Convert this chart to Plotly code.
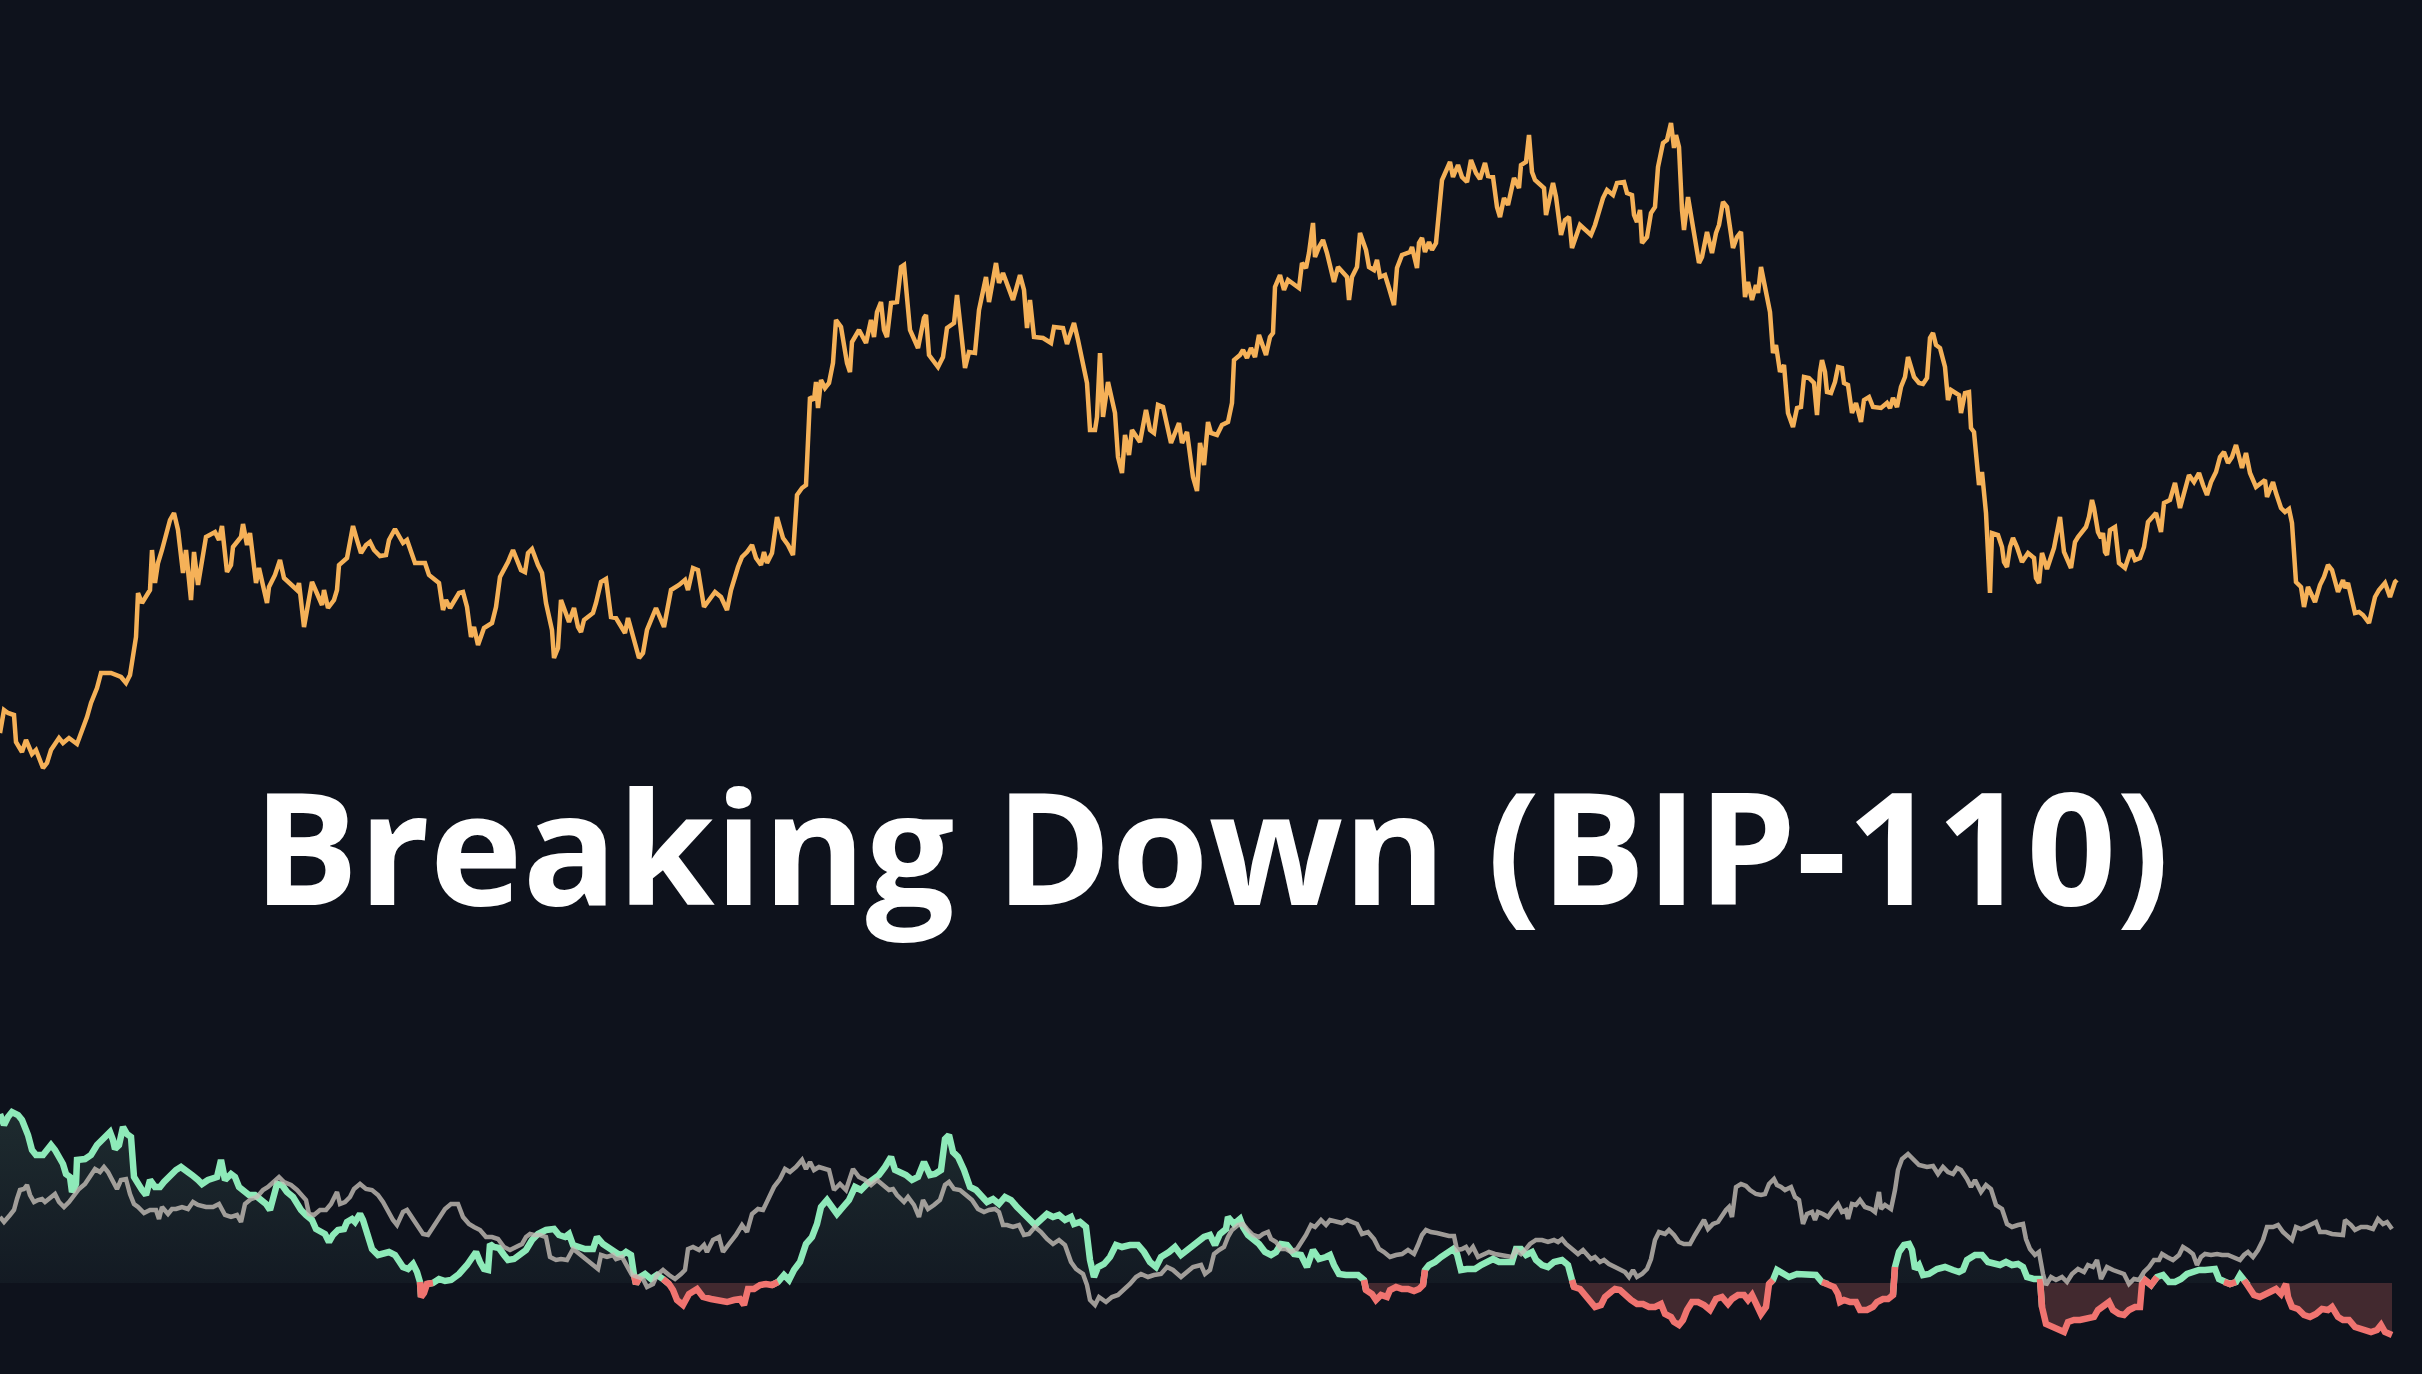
import plotly.graph_objects as go

# price line, (day, price index)
price_pts = [
    (0, 267), (4, 290), (8, 287), (14, 285), (16, 258), (22, 248), (26, 260), (32, 246), (36, 250), (43, 232),
    (47, 237), (51, 250), (59, 262), (63, 257), (69, 262), (77, 256), (87, 283), (91, 297), (97, 312), (101, 327),
    (111, 327), (121, 323), (126, 317), (130, 325), (136, 363), (138, 407), (142, 397), (150, 410), (152, 450), (155, 417),
    (158, 437), (162, 450), (170, 480), (174, 487), (178, 470), (183, 427), (186, 450), (191, 400), (194, 448), (198, 415),
    (206, 463), (215, 468), (219, 460), (222, 474), (227, 428), (231, 435), (233, 453), (241, 463), (243, 476), (247, 455),
    (250, 467), (256, 417), (259, 432), (263, 415), (267, 397), (269, 413), (275, 425), (280, 440), (284, 422), (297, 410),
    (299, 417), (304, 373), (308, 393), (312, 418), (322, 395), (324, 410), (328, 392), (334, 400), (337, 410), (339, 435),
    (347, 442), (353, 474), (357, 460), (361, 447), (366, 455), (370, 458), (374, 450), (380, 444), (386, 445), (389, 460),
    (395, 471), (399, 465), (403, 457), (407, 460), (411, 450), (415, 437), (425, 437), (429, 425), (439, 417), (443, 390),
    (446, 400), (450, 392), (459, 407), (463, 408), (467, 393), (471, 363), (474, 373), (478, 355), (484, 372), (492, 377),
    (496, 393), (500, 423), (508, 438), (513, 450), (521, 430), (525, 428), (528, 447), (532, 451), (538, 435), (542, 427),
    (546, 397), (552, 370), (554, 342), (558, 352), (561, 400), (569, 378), (574, 392), (578, 373), (581, 368), (584, 380),
    (593, 387), (596, 397), (601, 418), (606, 421), (611, 383), (616, 382), (625, 367), (628, 382), (639, 342), (643, 347),
    (647, 370), (656, 392), (664, 373), (671, 410), (679, 415), (685, 420), (688, 410), (693, 432), (698, 430), (704, 393),
    (715, 408), (721, 403), (727, 390), (731, 410), (738, 433), (742, 443), (747, 448), (752, 455), (756, 442), (761, 435),
    (764, 448), (767, 437), (772, 447), (777, 483), (783, 462), (788, 455), (793, 445), (797, 505), (802, 512), (806, 515),
    (810, 603), (814, 600), (816, 618), (818, 592), (821, 620), (825, 612), (829, 617), (833, 637), (836, 680), (841, 673),
    (847, 637), (850, 628), (852, 658), (859, 670), (866, 657), (871, 680), (874, 663), (877, 688), (881, 698), (884, 670),
    (887, 663), (891, 697), (897, 698), (901, 733), (904, 735), (908, 690), (910, 670), (918, 652), (924, 682), (926, 685),
    (929, 645), (938, 633), (943, 643), (947, 672), (954, 677), (957, 705), (961, 667), (965, 632), (969, 648), (975, 647),
    (979, 690), (986, 723), (989, 698), (996, 737), (999, 717), (1003, 727), (1013, 700), (1020, 725), (1024, 710), (1027, 672),
    (1030, 700), (1034, 663), (1043, 662), (1051, 657), (1054, 673), (1063, 672), (1067, 656), (1074, 677), (1078, 660), (1087, 617),
    (1090, 570), (1095, 570), (1097, 583), (1100, 647), (1103, 583), (1108, 618), (1115, 587), (1118, 543), (1122, 527), (1125, 565),
    (1129, 545), (1132, 570), (1140, 558), (1146, 590), (1150, 570), (1154, 567), (1158, 595), (1163, 593), (1171, 557), (1179, 577),
    (1182, 557), (1187, 568), (1193, 523), (1197, 509), (1200, 557), (1204, 535), (1208, 578), (1211, 567), (1217, 565), (1222, 575),
    (1228, 578), (1232, 597), (1234, 640), (1240, 645), (1243, 650), (1247, 642), (1251, 652), (1255, 643), (1259, 665), (1266, 645),
    (1270, 663), (1273, 667), (1275, 713), (1280, 725), (1284, 710), (1288, 720), (1299, 712), (1302, 737), (1306, 732), (1309, 747),
    (1313, 777), (1315, 743), (1319, 753), (1323, 760), (1327, 747), (1334, 718), (1338, 733), (1347, 723), (1349, 700), (1352, 723),
    (1357, 733), (1360, 767), (1366, 750), (1369, 733), (1374, 730), (1377, 740), (1380, 723), (1385, 725), (1389, 712), (1394, 695),
    (1397, 732), (1402, 745), (1410, 748), (1412, 753), (1417, 732), (1419, 757), (1422, 762), (1425, 748), (1429, 758), (1432, 750),
    (1436, 757), (1439, 790), (1442, 820), (1450, 838), (1453, 823), (1458, 835), (1462, 823), (1467, 818), (1471, 840), (1476, 827),
    (1480, 821), (1485, 837), (1488, 824), (1493, 823), (1497, 793), (1500, 783), (1504, 802), (1508, 795), (1514, 822), (1519, 812),
    (1521, 835), (1526, 838), (1529, 865), (1532, 828), (1535, 820), (1544, 812), (1546, 785), (1553, 817), (1556, 803), (1561, 765),
    (1565, 780), (1569, 783), (1572, 752), (1580, 775), (1591, 765), (1595, 775), (1603, 802), (1607, 810), (1613, 805), (1617, 817),
    (1624, 818), (1627, 807), (1632, 805), (1634, 785), (1637, 778), (1640, 790), (1642, 757), (1647, 763), (1651, 787), (1655, 793),
    (1658, 833), (1663, 857), (1667, 860), (1671, 877), (1674, 852), (1676, 865), (1679, 853), (1682, 790), (1684, 770), (1688, 803),
    (1699, 737), (1702, 743), (1707, 768), (1712, 747), (1716, 767), (1719, 775), (1723, 798), (1727, 793), (1730, 770), (1733, 752),
    (1737, 763), (1741, 768), (1745, 703), (1748, 718), (1752, 700), (1756, 715), (1758, 707), (1761, 733), (1765, 713), (1770, 688),
    (1773, 647), (1776, 655), (1780, 628), (1784, 635), (1788, 587), (1793, 573), (1797, 592), (1801, 593), (1804, 623), (1809, 622),
    (1814, 617), (1817, 585), (1820, 628), (1822, 640), (1825, 628), (1827, 608), (1831, 607), (1835, 618), (1838, 633), (1842, 632),
    (1844, 617), (1848, 615), (1852, 587), (1856, 597), (1861, 578), (1864, 600), (1869, 603), (1873, 593), (1881, 592), (1887, 597),
    (1890, 592), (1893, 602), (1897, 593), (1901, 613), (1905, 623), (1908, 643), (1914, 623), (1919, 617), (1923, 616), (1927, 622),
    (1930, 662), (1933, 667), (1936, 655), (1940, 652), (1945, 633), (1948, 600), (1951, 610), (1959, 605), (1961, 587), (1965, 607),
    (1969, 608), (1971, 572), (1974, 568), (1977, 527), (1979, 515), (1982, 528), (1983, 515), (1986, 487), (1990, 407), (1992, 467),
    (1998, 465), (2002, 453), (2004, 438), (2007, 433), (2010, 453), (2013, 462), (2017, 453), (2022, 438), (2028, 447), (2034, 442),
    (2036, 422), (2039, 417), (2042, 447), (2047, 431), (2050, 440), (2054, 452), (2060, 483), (2064, 448), (2071, 432), (2075, 458),
    (2078, 463), (2082, 468), (2086, 473), (2089, 483), (2092, 500), (2094, 492), (2098, 468), (2101, 462), (2103, 467), (2105, 448),
    (2107, 445), (2110, 470), (2115, 473), (2119, 437), (2125, 432), (2131, 450), (2135, 440), (2140, 442), (2144, 453), (2148, 478),
    (2156, 487), (2161, 468), (2164, 497), (2170, 500), (2175, 517), (2180, 492), (2184, 508), (2189, 525), (2194, 518), (2199, 527),
    (2203, 515), (2207, 505), (2211, 518), (2216, 528), (2220, 543), (2224, 548), (2228, 537), (2232, 543), (2236, 555), (2238, 548),
    (2242, 532), (2246, 547), (2250, 527), (2256, 513), (2265, 520), (2267, 503), (2273, 518), (2276, 507), (2281, 492), (2285, 488),
    (2289, 491), (2292, 477), (2296, 418), (2301, 413), (2304, 393), (2308, 413), (2315, 398), (2320, 415), (2324, 423), (2328, 435),
    (2332, 430), (2338, 408), (2343, 420), (2345, 412), (2348, 417), (2355, 387), (2359, 388), (2363, 385), (2369, 377), (2375, 403),
    (2379, 410), (2385, 417), (2390, 403), (2395, 418), (2397, 420),
]

# oscillator (green above zero, red below)
osc_pts = [
    (0, 169), (4, 158), (8, 166), (12, 171), (18, 168), (22, 163), (26, 153), (28, 148), (32, 133), (36, 128),
    (43, 128), (47, 134), (51, 138), (55, 133), (59, 126), (63, 119), (66, 109), (70, 106), (72, 91), (76, 99),
    (77, 123), (85, 124), (91, 128), (97, 138), (102, 143), (107, 149), (110, 151), (113, 143), (115, 134), (119, 138),
    (123, 156), (127, 149), (131, 146), (134, 106), (138, 98), (142, 93), (146, 88), (150, 103), (155, 96), (160, 96),
    (164, 101), (170, 108), (176, 113), (181, 116), (186, 113), (192, 108), (198, 103), (202, 99), (208, 103), (217, 106),
    (221, 123), (225, 103), (231, 109), (235, 106), (239, 96), (245, 91), (249, 88), (255, 88), (261, 84), (266, 79),
    (270, 73), (273, 86), (277, 99), (282, 98), (287, 91), (293, 86), (297, 79), (301, 73), (306, 68), (312, 63),
    (316, 54), (320, 51), (325, 49), (329, 41), (333, 48), (338, 53), (344, 54), (347, 61), (352, 64), (355, 61),
    (360, 69), (363, 63), (367, 49), (372, 34), (378, 28), (384, 29), (389, 31), (395, 28), (399, 21), (403, 16),
    (408, 14), (413, 19), (417, 11), (420, 1), (421, -14), (424, -10), (427, -1), (433, 0), (439, 4), (445, 2),
    (451, 3), (459, 9), (467, 18), (473, 26), (476, 31), (480, 21), (484, 14), (488, 13), (490, 39), (494, 36),
    (499, 35), (504, 28), (508, 23), (514, 24), (520, 29), (526, 33), (532, 43), (538, 49), (546, 53), (554, 54),
    (559, 48), (565, 46), (569, 49), (573, 38), (579, 36), (585, 34), (593, 34), (597, 46), (603, 39), (609, 34),
    (615, 31), (618, 29), (622, 28), (626, 31), (631, 28), (634, 8), (636, -1), (640, 6), (645, 9), (651, 4),
    (657, 8), (663, 4), (669, -1), (673, -7), (677, -17), (683, -22), (689, -11), (697, -6), (703, -14), (711, -16),
    (719, -17), (727, -19), (734, -17), (740, -16), (744, -22), (748, -6), (754, -6), (760, -2), (766, -1), (772, -2),
    (778, 1), (784, 8), (789, 3), (794, 13), (800, 21), (806, 39), (812, 46), (817, 59), (821, 76), (827, 83),
    (833, 74), (837, 69), (843, 76), (849, 83), (855, 96), (861, 93), (867, 99), (873, 103), (879, 108), (885, 116),
    (891, 126), (895, 113), (901, 111), (906, 108), (912, 103), (918, 106), (924, 121), (930, 108), (935, 109), (941, 113),
    (945, 144), (949, 148), (953, 131), (958, 126), (964, 113), (970, 96), (976, 93), (982, 86), (987, 81), (993, 84),
    (999, 79), (1005, 86), (1011, 83), (1017, 76), (1023, 71), (1029, 64), (1035, 58), (1041, 64), (1047, 69), (1053, 66),
    (1059, 68), (1065, 63), (1071, 66), (1074, 59), (1080, 61), (1086, 56), (1090, 23), (1094, 6), (1098, 16), (1104, 19),
    (1110, 26), (1116, 38), (1122, 36), (1130, 38), (1138, 38), (1144, 31), (1150, 21), (1156, 16), (1161, 26), (1169, 31),
    (1175, 36), (1181, 28), (1189, 34), (1197, 41), (1200, 43), (1204, 46), (1210, 48), (1215, 38), (1220, 49), (1226, 54),
    (1228, 66), (1234, 59), (1240, 64), (1243, 56), (1248, 48), (1253, 44), (1259, 39), (1265, 31), (1271, 28), (1276, 31),
    (1281, 39), (1287, 38), (1294, 29), (1301, 28), (1307, 16), (1313, 33), (1319, 24), (1326, 26), (1330, 28), (1334, 18),
    (1339, 9), (1346, 8), (1352, 8), (1358, 8), (1364, 3), (1366, -7), (1372, -11), (1376, -17), (1381, -12), (1387, -14),
    (1390, -7), (1396, -4), (1402, -6), (1408, -6), (1414, -8), (1419, -6), (1423, -2), (1425, 13), (1429, 18), (1435, 21),
    (1441, 26), (1447, 31), (1453, 34), (1457, 29), (1461, 13), (1467, 14), (1475, 14), (1481, 18), (1487, 21), (1493, 24),
    (1499, 21), (1504, 21), (1512, 21), (1516, 34), (1521, 34), (1526, 28), (1532, 31), (1536, 23), (1542, 18), (1548, 16),
    (1554, 21), (1562, 23), (1568, 18), (1572, 3), (1574, -4), (1580, -6), (1584, -11), (1589, -17), (1595, -24), (1601, -22),
    (1605, -14), (1611, -9), (1615, -6), (1620, -7), (1625, -12), (1631, -17), (1637, -21), (1643, -21), (1649, -24), (1655, -24),
    (1661, -21), (1665, -31), (1671, -34), (1674, -39), (1679, -42), (1683, -37), (1687, -27), (1692, -19), (1698, -19), (1704, -22),
    (1710, -27), (1716, -16), (1722, -14), (1728, -21), (1732, -16), (1738, -12), (1744, -12), (1748, -17), (1752, -12), (1756, -21),
    (1761, -31), (1766, -24), (1769, -1), (1773, 3), (1777, 13), (1783, 9), (1789, 6), (1797, 9), (1800, 9), (1808, 9),
    (1816, 8), (1822, 1), (1828, -1), (1834, -4), (1838, -11), (1840, -19), (1844, -17), (1850, -19), (1856, -19), (1860, -27),
    (1867, -27), (1873, -24), (1877, -19), (1883, -16), (1888, -16), (1893, -12), (1895, 16), (1899, 31), (1904, 38), (1909, 39),
    (1912, 33), (1915, 14), (1919, 18), (1923, 8), (1929, 9), (1937, 14), (1945, 16), (1953, 13), (1959, 11), (1963, 13),
    (1967, 23), (1975, 28), (1982, 28), (1988, 21), (1994, 19), (2000, 18), (2006, 21), (2012, 18), (2018, 19), (2023, 16),
    (2027, 6), (2034, 4), (2040, 4), (2042, -24), (2046, -41), (2052, -44), (2058, -46), (2064, -49), (2068, -39), (2074, -37),
    (2080, -37), (2086, -36), (2094, -34), (2098, -27), (2103, -24), (2109, -19), (2113, -27), (2119, -31), (2124, -32), (2129, -27),
    (2135, -24), (2140, -24), (2142, -1), (2145, 3), (2151, -2), (2157, 6), (2163, 8), (2169, 1), (2175, 1), (2181, 4),
    (2187, 9), (2193, 11), (2199, 13), (2205, 13), (2211, 14), (2215, 14), (2219, 4), (2224, 1), (2230, -1), (2236, 1),
    (2240, 8), (2244, 3), (2248, -2), (2254, -12), (2260, -14), (2266, -11), (2272, -9), (2276, -6), (2281, -11), (2286, -1),
    (2288, -14), (2292, -24), (2298, -26), (2304, -32), (2310, -34), (2316, -31), (2322, -26), (2328, -27), (2332, -24), (2338, -34),
    (2343, -37), (2349, -37), (2355, -44), (2363, -47), (2371, -49), (2377, -47), (2381, -42), (2385, -49), (2392, -52),
]

# slower grey signal line
signal_pts = [
    (0, 66), (4, 61), (10, 68), (14, 73), (17, 84), (20, 93), (24, 94), (27, 98), (30, 88), (34, 81),
    (38, 83), (42, 84), (45, 81), (51, 86), (55, 89), (59, 81), (64, 76), (69, 81), (74, 88), (79, 94),
    (85, 99), (90, 106), (95, 114), (100, 111), (104, 116), (108, 111), (113, 101), (117, 94), (121, 103), (126, 104),
    (130, 89), (134, 79), (138, 76), (144, 70), (150, 73), (156, 73), (159, 64), (162, 76), (168, 69), (172, 74),
    (176, 74), (182, 76), (188, 74), (193, 81), (198, 78), (206, 76), (213, 76), (219, 79), (225, 68), (231, 66),
    (237, 68), (241, 61), (245, 79), (251, 84), (257, 86), (263, 93), (268, 96), (273, 101), (279, 106), (284, 101),
    (291, 98), (297, 93), (302, 88), (306, 83), (309, 69), (314, 68), (320, 73), (326, 73), (331, 79), (337, 91),
    (340, 79), (345, 81), (350, 86), (354, 94), (360, 99), (366, 94), (372, 93), (378, 88), (383, 81), (387, 73),
    (393, 63), (397, 58), (403, 71), (407, 73), (413, 64), (418, 56), (423, 49), (428, 48), (433, 56), (439, 64),
    (445, 74), (451, 79), (458, 79), (463, 66), (469, 59), (474, 56), (480, 53), (486, 46), (492, 46), (498, 44),
    (504, 36), (510, 33), (516, 36), (522, 39), (526, 46), (530, 49), (534, 48), (540, 48), (546, 46), (550, 26),
    (556, 23), (561, 24), (567, 23), (573, 34), (577, 31), (583, 26), (589, 21), (595, 16), (598, 14), (601, 28),
    (607, 26), (613, 28), (616, 24), (622, 26), (627, 18), (632, 8), (638, 6), (643, 4), (647, -4), (653, -1),
    (657, 8), (663, 13), (669, 8), (675, 4), (681, 9), (685, 13), (688, 34), (693, 36), (699, 33), (704, 38),
    (707, 31), (713, 43), (719, 46), (723, 31), (729, 39), (736, 48), (742, 58), (747, 51), (752, 69), (758, 74),
    (763, 73), (768, 83), (774, 96), (780, 104), (785, 114), (790, 111), (796, 116), (802, 123), (806, 114), (810, 121),
    (814, 113), (819, 116), (825, 114), (829, 113), (834, 93), (840, 99), (846, 93), (853, 114), (859, 106), (865, 103),
    (871, 98), (877, 103), (883, 98), (889, 93), (893, 94), (897, 88), (904, 81), (908, 86), (914, 78), (919, 66),
    (923, 83), (928, 74), (934, 78), (940, 83), (945, 98), (949, 101), (954, 94), (960, 93), (966, 88), (972, 83),
    (978, 74), (984, 71), (989, 73), (995, 74), (999, 71), (1003, 58), (1007, 58), (1013, 56), (1019, 58), (1024, 48),
    (1029, 49), (1035, 56), (1041, 51), (1047, 44), (1053, 39), (1059, 43), (1065, 38), (1071, 21), (1076, 14), (1083, 9),
    (1087, -2), (1090, -17), (1095, -22), (1099, -14), (1106, -19), (1112, -14), (1118, -12), (1124, -7), (1130, -1), (1136, 6),
    (1141, 9), (1148, 6), (1154, 8), (1161, 9), (1167, 16), (1173, 13), (1181, 6), (1187, 11), (1193, 16), (1201, 18),
    (1205, 9), (1210, 13), (1214, 29), (1219, 33), (1224, 36), (1228, 46), (1232, 53), (1238, 58), (1243, 59), (1247, 54),
    (1253, 48), (1259, 46), (1263, 49), (1268, 51), (1271, 44), (1276, 41), (1281, 34), (1286, 34), (1291, 31), (1297, 34),
    (1302, 41), (1306, 48), (1311, 58), (1315, 56), (1321, 63), (1326, 58), (1330, 63), (1336, 61), (1342, 60), (1347, 63),
    (1352, 61), (1357, 59), (1362, 49), (1368, 51), (1374, 44), (1379, 34), (1384, 31), (1390, 26), (1396, 28), (1402, 29),
    (1408, 33), (1414, 29), (1418, 38), (1422, 48), (1426, 53), (1431, 51), (1437, 50), (1443, 48), (1449, 47), (1454, 47),
    (1457, 33), (1462, 34), (1466, 36), (1469, 31), (1473, 36), (1478, 26), (1483, 28), (1489, 31), (1495, 29), (1501, 28),
    (1506, 28), (1512, 26), (1516, 33), (1521, 29), (1526, 34), (1530, 39), (1536, 43), (1542, 43), (1548, 41), (1554, 43),
    (1558, 41), (1562, 44), (1566, 39), (1570, 36), (1574, 33), (1578, 29), (1583, 33), (1587, 28), (1591, 24), (1595, 26),
    (1600, 21), (1604, 23), (1609, 19), (1615, 16), (1620, 13), (1625, 11), (1629, 6), (1633, 13), (1637, 6), (1642, 9),
    (1647, 14), (1651, 24), (1655, 43), (1659, 51), (1665, 49), (1669, 53), (1674, 48), (1679, 41), (1684, 39), (1690, 39),
    (1695, 48), (1700, 56), (1704, 63), (1708, 54), (1713, 59), (1718, 61), (1722, 68), (1726, 73), (1729, 76), (1732, 66),
    (1736, 96), (1741, 99), (1746, 97), (1750, 93), (1756, 89), (1761, 88), (1765, 89), (1769, 99), (1774, 104), (1777, 98),
    (1781, 96), (1785, 93), (1791, 96), (1795, 86), (1799, 83), (1803, 59), (1807, 69), (1812, 71), (1815, 63), (1818, 71),
    (1823, 69), (1828, 66), (1833, 73), (1838, 79), (1842, 71), (1846, 73), (1848, 64), (1852, 79), (1856, 78), (1860, 83),
    (1865, 76), (1871, 74), (1875, 71), (1879, 91), (1881, 74), (1885, 78), (1891, 74), (1895, 93), (1898, 113), (1902, 124),
    (1908, 129), (1913, 124), (1919, 118), (1927, 116), (1933, 117), (1938, 109), (1943, 116), (1948, 111), (1953, 109), (1957, 115),
    (1961, 113), (1967, 104), (1971, 96), (1975, 103), (1981, 91), (1986, 98), (1991, 94), (1996, 78), (2002, 74), (2007, 59),
    (2012, 56), (2018, 58), (2023, 59), (2026, 44), (2030, 34), (2035, 28), (2039, 31), (2043, 9), (2046, -2), (2051, 6),
    (2056, 3), (2062, 6), (2067, 1), (2072, 9), (2078, 14), (2084, 11), (2088, 18), (2093, 16), (2097, 23), (2101, 4),
    (2107, 16), (2113, 13), (2119, 11), (2124, 9), (2129, -1), (2134, 4), (2139, 3), (2144, 11), (2149, 16), (2154, 23),
    (2159, 23), (2162, 29), (2167, 26), (2173, 23), (2179, 28), (2183, 36), (2188, 33), (2193, 29), (2197, 18), (2201, 26),
    (2205, 29), (2211, 28), (2217, 29), (2222, 28), (2228, 28), (2234, 26), (2240, 23), (2244, 28), (2248, 31), (2253, 26),
    (2258, 33), (2263, 43), (2267, 56), (2273, 56), (2278, 58), (2283, 51), (2288, 46), (2292, 43), (2296, 56), (2301, 54),
    (2306, 56), (2311, 59), (2316, 61), (2320, 51), (2326, 51), (2332, 49), (2338, 48), (2343, 48), (2345, 63), (2351, 58),
    (2355, 53), (2361, 56), (2367, 56), (2373, 54), (2378, 64), (2383, 59), (2387, 61), (2392, 54),
]

title = "Breaking Down (BIP-110)"

price_day = [p[0] for p in price_pts]
price = [p[1] for p in price_pts]
osc_day = [p[0] for p in osc_pts]
osc = [p[1] for p in osc_pts]
signal_day = [p[0] for p in signal_pts]
signal = [p[1] for p in signal_pts]

BG = "#0e121c"
ORANGE = "#f5b158"
GREEN = "#8eeab9"
RED = "#f07470"


def split_by_sign(vals, positive):
    # keep the runs of one sign, plus the neighbour point so the colours join up
    n = len(vals)
    keep = [(v >= 0) == positive for v in vals]
    out = []
    for i, v in enumerate(vals):
        if keep[i] or (i > 0 and keep[i - 1]) or (i < n - 1 and keep[i + 1]):
            out.append(v)
        else:
            out.append(None)
    return out


osc_pos = [max(v, 0) for v in osc]
osc_neg = [min(v, 0) for v in osc]

fig = go.Figure()

fig.add_trace(go.Scatter(
    x=price_day, y=price, mode="lines",
    line=dict(color=ORANGE, width=4.5),
    hoverinfo="skip", showlegend=False,
))

fig.add_trace(go.Scatter(
    x=osc_day, y=osc_pos, yaxis="y2", mode="none",
    fill="tozeroy",
    fillgradient=dict(type="vertical", colorscale=[[0, "#131a23"], [1, "#1e2b2f"]]),
    hoverinfo="skip", showlegend=False,
))
fig.add_trace(go.Scatter(
    x=osc_day, y=osc_neg, yaxis="y2", mode="none",
    fill="tozeroy", fillcolor="#42292f",
    hoverinfo="skip", showlegend=False,
))

fig.add_trace(go.Scatter(
    x=osc_day, y=split_by_sign(osc, True), yaxis="y2", mode="lines",
    line=dict(color=GREEN, width=6.5), connectgaps=False,
    hoverinfo="skip", showlegend=False,
))
fig.add_trace(go.Scatter(
    x=osc_day, y=split_by_sign(osc, False), yaxis="y2", mode="lines",
    line=dict(color=RED, width=6.5), connectgaps=False,
    hoverinfo="skip", showlegend=False,
))

fig.add_trace(go.Scatter(
    x=signal_day, y=signal, yaxis="y2", mode="lines",
    line=dict(color="rgba(196,190,182,0.8)", width=4.5),
    hoverinfo="skip", showlegend=False,
))

fig.add_annotation(
    text=title, xref="paper", yref="paper", x=0.5, y=0.386,
    xanchor="center", yanchor="middle", showarrow=False,
    font=dict(family="Open Sans", size=157, color="#ffffff", weight=700),
)

fig.update_layout(
    width=2422, height=1374,
    margin=dict(l=0, r=0, t=0, b=0),
    paper_bgcolor=BG, plot_bgcolor=BG,
    xaxis=dict(range=[0, 2422], visible=False, fixedrange=True),
    yaxis=dict(range=[-374, 1000], visible=False, fixedrange=True),
    yaxis2=dict(range=[-91, 1283], overlaying="y", visible=False, fixedrange=True),
    hovermode=False,
)

# page body has a default 8px margin, drop it so the chart fills the window
fig.write_html(
    "out.html",
    config={"displayModeBar": False},
    post_script="document.body.style.margin='0';document.body.style.background='#0e121c';",
)
